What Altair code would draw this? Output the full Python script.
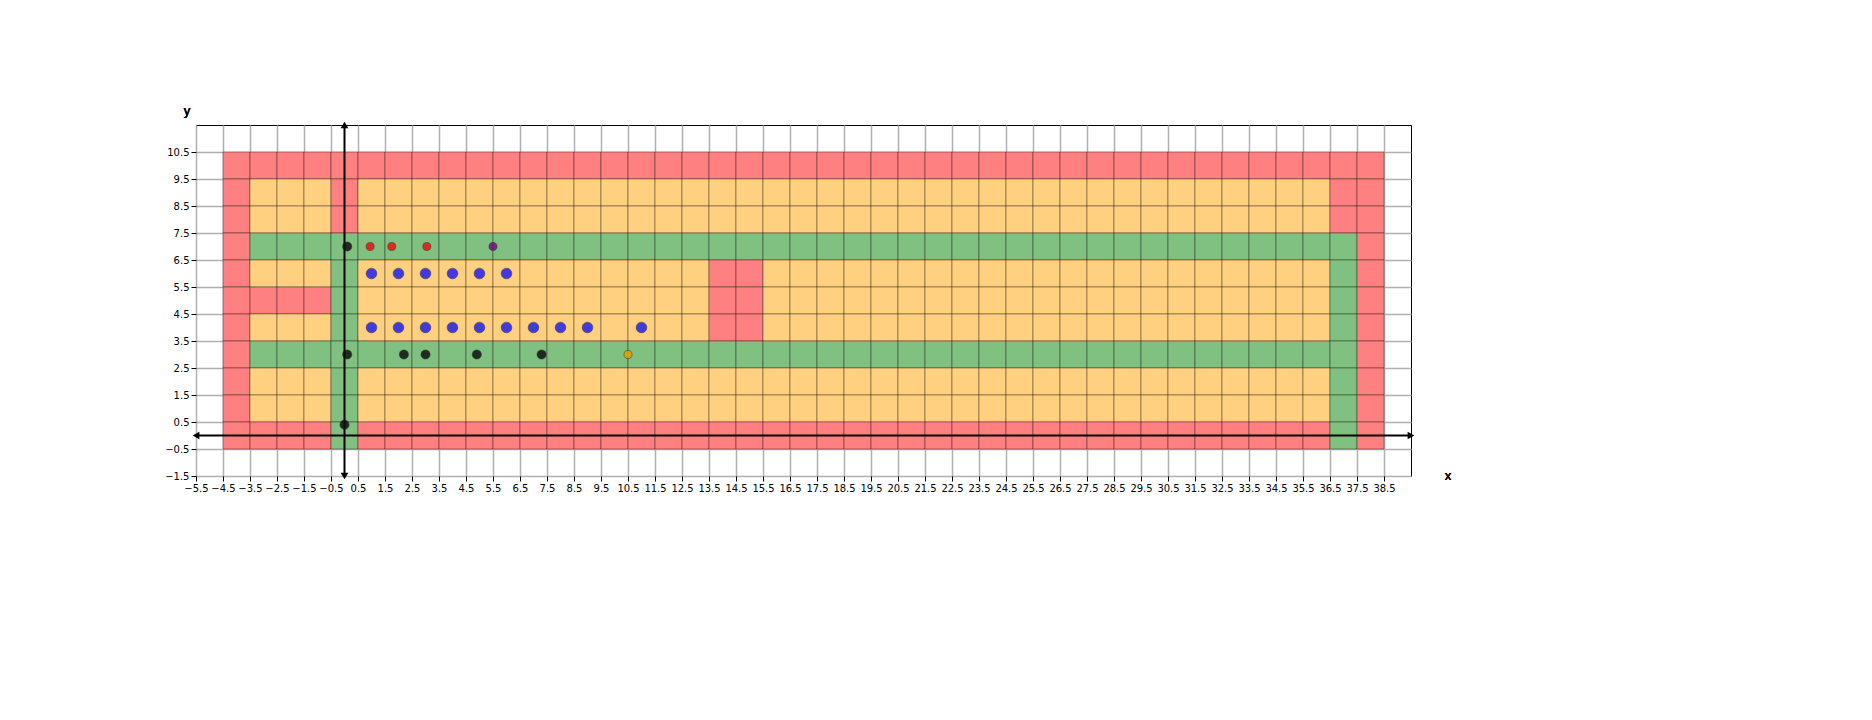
import altair as alt
import pandas as pd

# grid of cells, rows from y=10 down to y=0, columns x=-4..38
row_y = [10, 9, 8, 7, 6, 5, 4, 3, 2, 1, 0]
rows = [
    "R" * 43,
    "RYYYR" + "Y" * 36 + "RR",
    "RYYYR" + "Y" * 36 + "RR",
    "R" + "G" * 41 + "R",
    "RYYYG" + "Y" * 13 + "RR" + "Y" * 21 + "GR",
    "RRRRG" + "Y" * 13 + "RR" + "Y" * 21 + "GR",
    "RYYYG" + "Y" * 13 + "RR" + "Y" * 21 + "GR",
    "R" + "G" * 41 + "R",
    "RYYYG" + "Y" * 36 + "GR",
    "RYYYG" + "Y" * 36 + "GR",
    "RRRRG" + "R" * 36 + "GR",
]
x_start = -4
cell_colors = {"R": "#ff8080", "Y": "#ffd080", "G": "#80c080"}

pts_x = [0.1, 0.1, 0.0, 2.2, 3.0, 4.9, 7.3,
         0.95, 1.75, 3.05, 5.5,
         1, 2, 3, 4, 5, 6,
         1, 2, 3, 4, 5, 6, 7, 8, 9, 11,
         10.5]
pts_y = [7, 3, 0.4, 3, 3, 3, 3,
         7, 7, 7, 7,
         6, 6, 6, 6, 6, 6,
         4, 4, 4, 4, 4, 4, 4, 4, 4, 4,
         3]
pts_kind = ["black"] * 7 + ["red"] * 3 + ["purple"] + ["blue"] * 16 + ["orange"]
kind_color = {"black": "#101010", "red": "#ee1010", "purple": "#701080",
              "blue": "#2020ee", "orange": "#e8a000"}
kind_size = {"black": 85, "red": 65, "purple": 65, "blue": 115, "orange": 65}

x_ticks = [v + 0.5 for v in range(-6, 39)]
y_ticks = [v + 0.5 for v in range(-2, 11)]

cells = []
for y, r in zip(row_y, rows):
    for i, c in enumerate(r):
        x = x_start + i
        cells.append({"x": x - 0.5, "x2": x + 0.5, "y": y - 0.5, "y2": y + 0.5,
                      "c": cell_colors[c]})
cells = pd.DataFrame(cells)
pts = pd.DataFrame({"x": pts_x, "y": pts_y,
                    "c": [kind_color[k] for k in pts_kind],
                    "s": [kind_size[k] for k in pts_kind]})

xs = alt.Scale(domain=[-5.5, 39.5], nice=False, zero=False)
ys = alt.Scale(domain=[-1.5, 11.5], nice=False, zero=False)
xax = alt.Axis(values=x_ticks, title=None, labelFontSize=10, labelColor="black",
               grid=True, gridColor="#b0b0b0", gridWidth=1.5, labelFlush=False,
               format=".1f")
yax = alt.Axis(values=y_ticks, title=None, labelFontSize=10, labelColor="black",
               grid=True, gridColor="#b0b0b0", gridWidth=1.5, format=".1f")
X = alt.X("x:Q", scale=xs, axis=xax)
Y = alt.Y("y:Q", scale=ys, axis=yax)

base = alt.Chart(cells).mark_rect(stroke="black", strokeOpacity=0.35, strokeWidth=1).encode(
    x=X, x2="x2:Q", y=Y, y2="y2:Q", color=alt.Color("c:N", scale=None))

axes_df = pd.DataFrame({"x": [0, -5.5], "x2": [0, 39.5], "y": [-1.5, 0], "y2": [11.5, 0]})
axes_lines = alt.Chart(axes_df).mark_rule(color="black", strokeWidth=2).encode(
    x=X, x2="x2:Q", y=Y, y2="y2:Q")

heads_df = pd.DataFrame({"x": [0, 0, -5.5, 39.5], "y": [11.5, -1.5, 0, 0],
                         "a": [0, 180, 270, 90]})
heads = alt.Chart(heads_df).mark_point(shape="triangle-up", filled=True, color="black",
                                       size=60, opacity=1).encode(
    x=X, y=Y, angle=alt.Angle("a:Q", scale=None))

points = alt.Chart(pts).mark_circle(opacity=0.85, stroke="#202020", strokeWidth=0.5).encode(
    x=X, y=Y, color=alt.Color("c:N", scale=None), size=alt.Size("s:Q", scale=None))

ylab = alt.Chart(heads_df).mark_text(text="y", fontSize=13, color="black").encode(
    x=alt.value(-9), y=alt.value(-14))
xlab = alt.Chart(heads_df).mark_text(text="x", fontSize=13, color="black").encode(
    x=alt.value(1252), y=alt.value(351))

chart = alt.layer(base, axes_lines, heads, points, ylab, xlab).properties(
    width=1215, height=351,
    autosize=alt.AutoSizeParams(type="none"),
    padding={"left": 188, "top": 117, "right": 60, "bottom": 60},
).configure_view(stroke="black", strokeWidth=1).configure_axis(
    domain=False, tickColor="black", labelFont="DejaVu Sans")

chart.save("out.html", embed_options={"renderer": "svg", "actions": False})
